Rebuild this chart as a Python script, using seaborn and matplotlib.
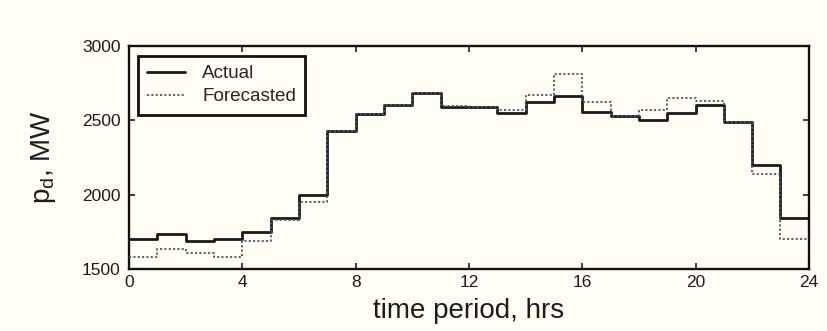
import numpy as np
import pandas as pd
import matplotlib
matplotlib.use("Agg")
import matplotlib.pyplot as plt
import seaborn as sns

# Hourly demand, MW (value held over each hour)
hours = list(range(25))
actual = [1700, 1735, 1690, 1700, 1750, 1840, 2000, 2430, 2540, 2600, 2680, 2590,
          2590, 2550, 2620, 2660, 2555, 2530, 2500, 2550, 2600, 2490, 2200, 1840]
forecasted = [1580, 1635, 1605, 1580, 1690, 1830, 1950, 2430, 2540, 2605, 2685, 2595,
              2585, 2570, 2670, 2810, 2620, 2530, 2570, 2650, 2630, 2490, 2140, 1700]
x_ticks = [0, 4, 8, 12, 16, 20, 24]
y_ticks = [1500, 2000, 2500, 3000]

# repeat the last hour so the final step reaches hour 24
df = pd.DataFrame({
    "hour": hours * 2,
    "MW": actual + [actual[-1]] + forecasted + [forecasted[-1]],
    "series": ["Actual"] * 25 + ["Forecasted"] * 25,
})

sns.set_theme(style="ticks")
plt.rcParams["font.family"] = ["Liberation Sans", "DejaVu Sans"]
plt.rcParams["mathtext.default"] = "regular"
bg = "#fffdf4"
ink = "#1c1c1c"

fig = plt.figure(figsize=(8.27, 3.31), dpi=100, facecolor=bg)
ax = fig.add_axes([0.156, 0.187, 0.822, 0.675])
ax.set_facecolor(bg)

sns.lineplot(data=df, x="hour", y="MW", hue="series", style="series",
             palette={"Actual": "#1a1a1a", "Forecasted": "#4a5a6a"},
             dashes={"Actual": "", "Forecasted": (1.2, 1.2)},
             drawstyle="steps-post", ax=ax, legend=False)
lines = ax.get_lines()
lines[0].set_linewidth(2.0)
lines[1].set_linewidth(1.3)
lines[0].set_zorder(2)
lines[1].set_zorder(3)

ax.set_xlim(0, 24)
ax.set_ylim(1500, 3000)
ax.set_xticks(x_ticks)
ax.set_yticks(y_ticks)
ax.tick_params(direction="in", length=4, width=1.2, top=True, right=True,
               labelsize=12.5, colors=ink)
ax.tick_params(axis="y", pad=6)
ax.tick_params(axis="x", pad=4)
for s in ax.spines.values():
    s.set_linewidth(1.7)
    s.set_color("#111111")

ax.set_xlabel("time period, hrs", fontsize=20, color=ink, labelpad=6)
ax.set_ylabel("p$_d$, MW", fontsize=20, color=ink)
ax.yaxis.set_label_coords(-0.104, 0.5)

leg = ax.legend(lines, ["Actual", "Forecasted"], loc="upper left",
                bbox_to_anchor=(0.013, 0.955), borderaxespad=0,
                fontsize=13.6, frameon=True,
                fancybox=False, edgecolor="#111111", facecolor=bg,
                handlelength=2.0, handletextpad=0.9,
                borderpad=0.5, labelspacing=0.3)
leg.get_frame().set_linewidth(2.0)
leg.get_frame().set_alpha(1)

fig.savefig("out.png", dpi=100, facecolor=bg)
